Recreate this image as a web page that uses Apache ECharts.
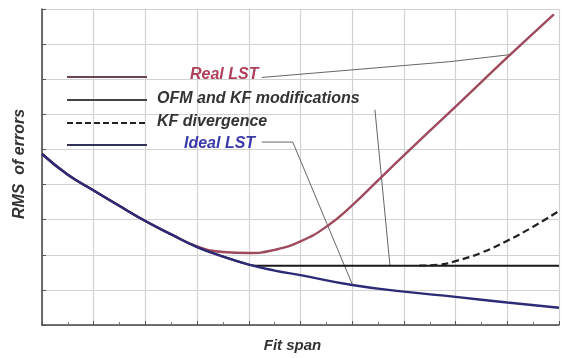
<!DOCTYPE html>
<html>
<head>
<meta charset="utf-8">
<style>html,body{margin:0;padding:0;background:#fff;}#c{width:562px;height:358px;}</style>
<script src="https://cdn.jsdelivr.net/npm/echarts@6/dist/echarts.min.js"></script>
</head>
<body>
<div id="c"></div>
<script>
// Data (x: fit span in grid units 0..10, y: RMS of errors in grid units 0..9)
var idealLST = [[0,4.87],[0.5,4.28],[1,3.83],[1.5,3.39],[2,2.96],[2.5,2.58],[3,2.22],[3.5,1.95],[4,1.72],[4.5,1.55],[5,1.42],[6,1.14],[7,0.95],[8,0.80],[9,0.64],[10,0.49]];
var realLST = [[0,4.87],[0.5,4.28],[1,3.83],[1.5,3.39],[2,2.96],[2.5,2.58],[3,2.24],[3.5,2.08],[4,2.05],[4.5,2.14],[5,2.38],[5.5,2.80],[6,3.41],[6.5,4.12],[7,4.83],[8,6.22],[9,7.62],[9.9,8.85]];
var ofmKF = [[0,4.87],[0.5,4.28],[1,3.83],[1.5,3.39],[2,2.96],[2.5,2.58],[3,2.22],[3.5,1.95],[4,1.72],[4.15,1.69],[5,1.69],[10,1.69]];
var kfDivergence = [[7.3,1.69],[7.7,1.72],[8,1.82],[8.5,2.06],[9,2.40],[9.5,2.80],[10,3.25]];
// Annotation leader lines (data coordinates)
var leaderReal = [[4.25,7.05],[7.89,7.50],[9.05,7.70]];
var leaderOFM = [[6.44,6.13],[6.73,1.69]];
var leaderIdeal = [[4.25,5.21],[4.85,5.21],[6.01,1.13]];
var labels = ['Real LST','OFM and KF modifications','KF divergence','Ideal LST'];
var xName = 'Fit span';
var yName = 'RMS  of errors';

var chart = echarts.init(document.getElementById('c'));
var font = 'Liberation Sans, Arial, sans-serif';
function leader(d){
  return {type:'line', data:d, symbol:'none', silent:true, z:1,
    lineStyle:{color:'#666', width:1}};
}
function legendText(t, x, y, color){
  return {type:'text', left:x, top:y, z:100,
    style:{text:t, fill:color, font:'italic bold 16px '+font}};
}
function legendLine(y, color, dash, w){
  return {type:'line', z:100, shape:{x1:67,y1:y,x2:147,y2:y},
    style:{stroke:color, lineWidth:w||2, lineDash:dash||null}};
}
chart.setOption({
  animation:false,
  backgroundColor:'#fff',
  grid:{left:42, right:3, top:9, bottom:28},
  xAxis:{type:'value', min:0, max:10, interval:1,
    name:xName, nameLocation:'middle', nameGap:13,
    nameTextStyle:{fontFamily:font, fontStyle:'italic', fontWeight:'bold', fontSize:15, color:'#333', padding:[0,16,0,0]},
    axisLine:{show:true, onZero:false, lineStyle:{color:'#444', width:1.5}},
    axisTick:{show:true, inside:true, length:4, lineStyle:{color:'#555'}},
    minorTick:{show:true, splitNumber:2, length:3, lineStyle:{color:'#777'}},
    axisLabel:{show:false},
    splitLine:{show:true, lineStyle:{color:'#d2d2d2', width:1.2}}
  },
  yAxis:{type:'value', min:0, max:9, interval:1,
    name:yName, nameLocation:'middle', nameGap:14,
    nameTextStyle:{fontFamily:font, fontStyle:'italic', fontWeight:'bold', fontSize:16, color:'#333', padding:[0,0,0,6]},
    axisLine:{show:true, onZero:false, lineStyle:{color:'#444', width:1.5}},
    axisTick:{show:true, inside:true, length:4, lineStyle:{color:'#555'}},
    axisLabel:{show:false},
    splitLine:{show:true, lineStyle:{color:'#d2d2d2', width:1.2}}
  },
  series:[
    leader(leaderReal), leader(leaderOFM), leader(leaderIdeal),
    {name:labels[0], type:'line', data:realLST, symbol:'none', smooth:0.5, z:3,
      lineStyle:{color:'#9e4a5c', width:2.4}},
    {name:labels[1], type:'line', data:ofmKF, symbol:'none', smooth:0.3, z:4,
      lineStyle:{color:'#1a1a1a', width:2}},
    {name:labels[2], type:'line', data:kfDivergence, symbol:'none', smooth:0.5, z:4,
      lineStyle:{color:'#222', width:2.2, type:[7,4]}},
    {name:labels[3], type:'line', data:idealLST, symbol:'none', smooth:0.5, z:5,
      lineStyle:{color:'#2d2a78', width:2.4}}
  ],
  graphic:[
    legendLine(77, '#6a4550', null, 2),
    legendLine(100, '#444', null, 2),
    legendLine(123, '#222', [6,3], 1.8),
    legendLine(145, '#33335a', null, 2),
    legendText(labels[0], 190, 67, '#b0405a'),
    legendText(labels[1], 157, 91, '#333'),
    legendText(labels[2], 157, 114, '#333'),
    legendText(labels[3], 184, 136, '#3a3aa8')
  ]
});
</script>
</body>
</html>
